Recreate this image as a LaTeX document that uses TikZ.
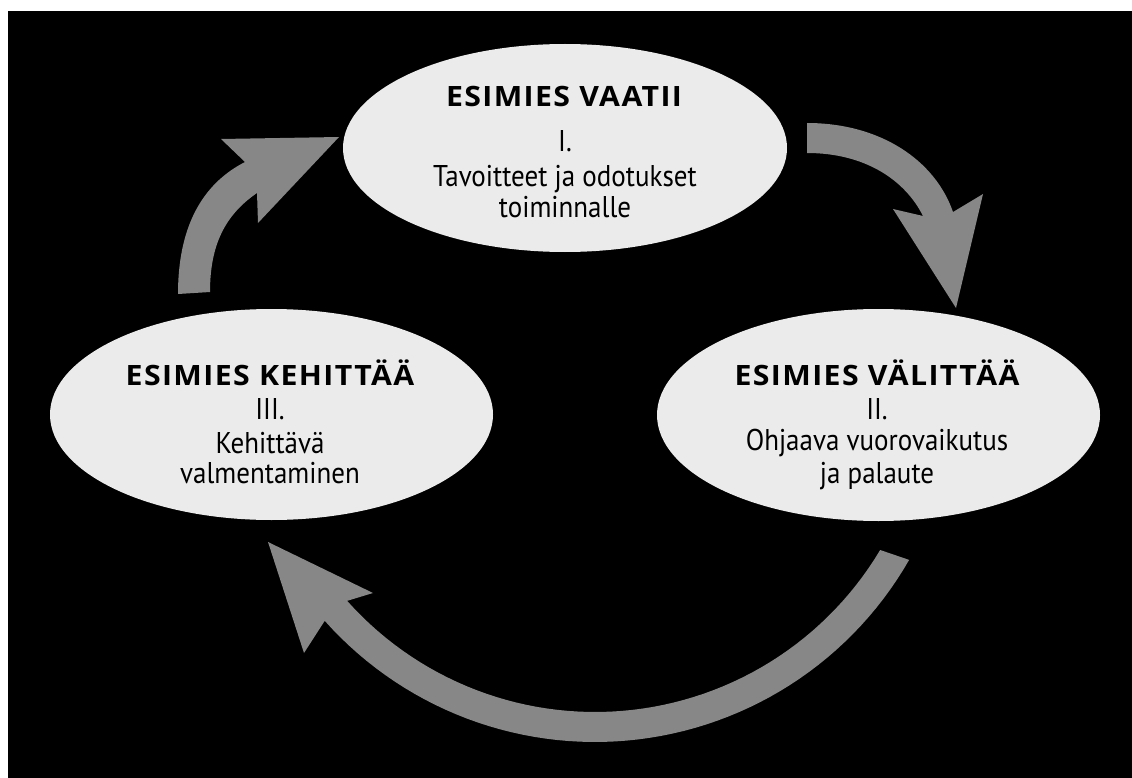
\documentclass[tikz,border=0pt]{standalone}
\usepackage{fontspec}
\usetikzlibrary{shapes.geometric}
\newfontfamily\headfont{Open Sans}[FakeStretch=1.08,LetterSpace=5]
\newfontfamily\bodyfont{PT Sans}[FakeStretch=0.9]
\definecolor{ellgray}{RGB}{235,235,235}
\definecolor{arrgray}{RGB}{135,135,135}
\tikzset{
  ell/.style={ellipse, fill=ellgray, draw=none, inner sep=0pt},
  head/.style={anchor=base, inner sep=0pt, font=\headfont\bfseries\fontsize{28}{32}\selectfont, text=black},
  body/.style={anchor=base, inner sep=0pt, font=\bodyfont\fontsize{30}{32}\selectfont, text=black},
  blockarrow/.style={fill=arrgray, draw=none}
}
\begin{document}
\begin{tikzpicture}[x=1pt, y=-1pt]
\useasboundingbox (0,0) rectangle (1132,778);
\fill[white] (0,0) rectangle (1132,778);
\fill[black] (8,11) rectangle (1132,778);
% block arrows
\fill[blockarrow] (178,294) .. controls (178,230) and (200,185) .. (245,162) -- (221,139) -- (339,137) -- (258,223) -- (257,193) .. controls (225,215) and (210,245) .. (210,292) -- cycle;
\fill[blockarrow] (807,123) .. controls (880,123) and (935,160) .. (953,212) -- (983,194) -- (956,308) -- (893,209) -- (923,216) .. controls (905,180) and (865,153) .. (807,153) -- cycle;
\fill[blockarrow] plot[domain=29.8:138.3, samples=60] ({595+362*cos(\x)},{380+362*sin(\x)}) -- (304,653) -- (268,542) -- (373,593) -- plot[domain=138.3:30.8, samples=60] ({595+332*cos(\x)},{380+332*sin(\x)}) -- cycle;
% ellipses
\node[ell, minimum width=444pt, minimum height=208pt] (e1) at (565,148) {};
\node[ell, minimum width=443pt, minimum height=211pt] (e3) at (271.5,414.5) {};
\node[ell, minimum width=443pt, minimum height=212pt] (e2) at (878.5,415) {};
% texts
\node[head] (h1) at (564,107) {ESIMIES VAATII};
\node[body] (n1) at (565,152) {I.};
\node[body] (d1a) at (565,186) {Tavoitteet ja odotukset};
\node[body] (d1b) at (565,218) {toiminnalle};
\node[head] (h3) at (270,385) {ESIMIES KEHITTÄÄ};
\node[body] (n3) at (270,419) {III.};
\node[body] (d3a) at (270,453) {Kehittävä};
\node[body] (d3b) at (270,483) {valmentaminen};
\node[head] (h2) at (877,385) {ESIMIES VÄLITTÄÄ};
\node[body] (n2) at (877,419) {II.};
\node[body] (d2a) at (877,450) {Ohjaava vuorovaikutus};
\node[body] (d2b) at (877,483) {ja palaute};
\end{tikzpicture}
\end{document}
